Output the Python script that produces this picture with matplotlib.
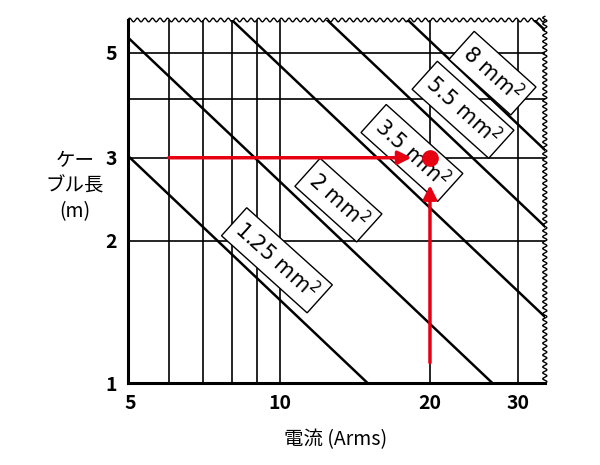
import numpy as np
import matplotlib
matplotlib.use("Agg")
import matplotlib.pyplot as plt

plt.rcParams['font.family'] = ['Noto Sans CJK JP', 'DejaVu Sans']

sizes = ["1.25 mm$^2$", "2 mm$^2$", "3.5 mm$^2$", "5.5 mm$^2$", "8 mm$^2$", ""]
products = [15.0, 26.7, 47.0, 73.0, 106.0, 190.0]   # current x length (A*m)
label_x = [9.86, 13.1, 18.4, 23.3, 26.7]
label_y = [1.82, 2.44, 3.07, 3.79, 4.53]
xgrid = [6, 7, 8, 9, 10, 20, 30]
ygrid = [2, 3, 4, 5]
xticks = [5, 10, 20, 30]
yticks = [1, 2, 3, 5]
op_current, op_length = 20, 3

fig = plt.figure(figsize=(6, 4.65), dpi=100)
ax = fig.add_axes([0.213, 0.176, 0.695, 0.781])
xmin, xmax, ymin, ymax = 4.95, 34.0, 1.0, 5.87
ax.set_xscale('log'); ax.set_yscale('log')
ax.set_xlim(xmin, xmax); ax.set_ylim(ymin, ymax)

for gx in xgrid:
    ax.axvline(gx, color='black', lw=1.2, zorder=1)
for gy in ygrid:
    ax.axhline(gy, color='black', lw=1.2, zorder=1)

xs = np.geomspace(xmin, xmax, 200)
for p in products:
    ax.plot(xs, p / xs, color='black', lw=1.8, zorder=2)

for t, lx, ly in zip(sizes, label_x, label_y):
    if t:
        ax.text(lx, ly, t, rotation=-42, rotation_mode='anchor', ha='center', va='center',
                fontsize=15, fontfamily='DejaVu Sans', zorder=4,
                bbox=dict(boxstyle='square,pad=0.3', fc='white', ec='black', lw=1.0))

red = '#e60012'
ax.annotate('', xy=(18.6, op_length), xytext=(5.9, op_length),
            arrowprops=dict(arrowstyle='-|>,head_length=0.8,head_width=0.4', color=red, lw=2.5), zorder=5)
ax.annotate('', xy=(op_current, 2.66), xytext=(op_current, 1.09),
            arrowprops=dict(arrowstyle='-|>,head_length=0.8,head_width=0.4', color=red, lw=2.5), zorder=5)
ax.plot([op_current], [op_length], 'o', color=red, ms=11, zorder=6)

ax.set_xticks(xticks); ax.set_xticklabels([str(v) for v in xticks])
ax.set_yticks(yticks); ax.set_yticklabels([str(v) for v in yticks])
ax.minorticks_off()
ax.tick_params(length=0, labelsize=14, pad=8)
for lab in ax.get_xticklabels() + ax.get_yticklabels():
    lab.set_fontweight('bold')
for s in ['top', 'right']:
    ax.spines[s].set_visible(False)
for s in ['left', 'bottom']:
    ax.spines[s].set_linewidth(2.2)

# wavy top and right edges
t = np.linspace(0, 1, 800)
ax.plot(t, 1.0 + 0.005 * np.sin(2 * np.pi * 55 * t), color='black', lw=1.0,
        transform=ax.transAxes, clip_on=False)
ax.plot(1.0 + 0.005 * np.sin(2 * np.pi * 62 * t), t * 1.01, color='black', lw=1.0,
        transform=ax.transAxes, clip_on=False)

fig.text(0.125, 0.6, 'ケー\nブル長\n(m)', ha='center', va='center', fontsize=14, linespacing=1.3)
fig.text(0.56, 0.055, '電流 (Arms)', ha='center', va='center', fontsize=14)

fig.savefig('out.png', dpi=100)
